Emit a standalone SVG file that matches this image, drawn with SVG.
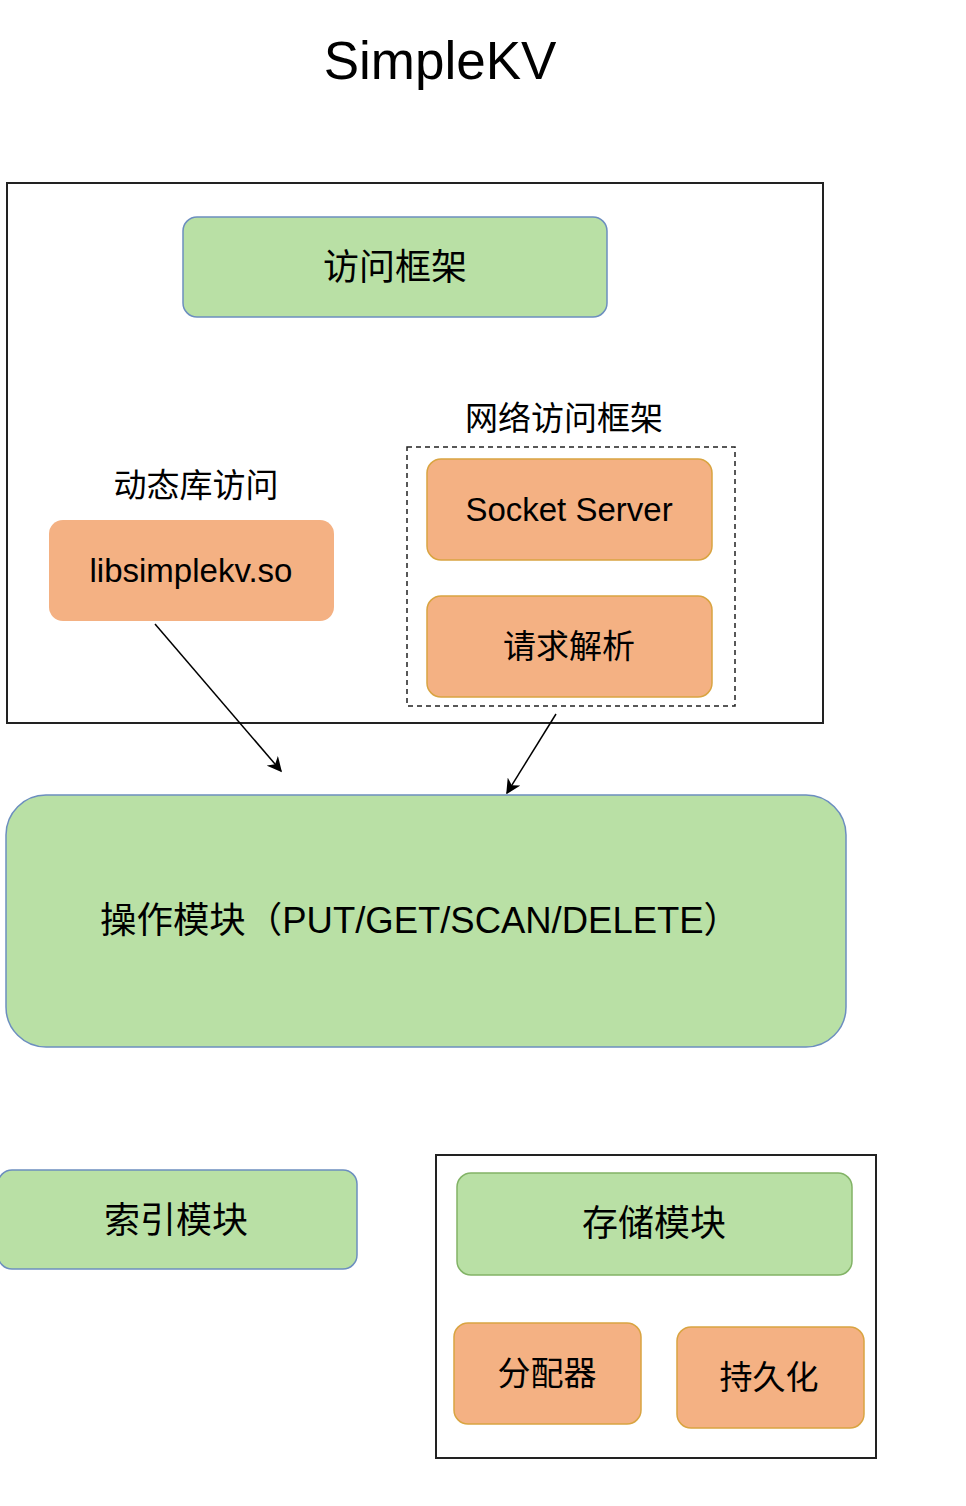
<svg xmlns="http://www.w3.org/2000/svg" width="966" height="1506" viewBox="0 0 966 1506">
<style>
text{font-family:"Liberation Sans","Noto Sans CJK SC",Arial,sans-serif;fill:#000;text-anchor:middle;dominant-baseline:central}
.g{fill:#b9e0a5;stroke:#6c8ebf;stroke-width:1.5}
.gg{fill:#b9e0a5;stroke:#82b366;stroke-width:1.5}
.o{fill:#f4b183;stroke:#d9a441;stroke-width:1.5}
.on{fill:#f4b183;stroke:none}
.frame{fill:#fff;stroke:#222;stroke-width:2}
.dash{fill:none;stroke:#222;stroke-width:1.5;stroke-dasharray:5 4}
.conn{stroke:#000;stroke-width:1.5;fill:none;marker-end:url(#ah)}
</style>
<defs>
<marker id="ah" viewBox="0 0 10 10" refX="9" refY="5" markerWidth="15" markerHeight="15" markerUnits="userSpaceOnUse" orient="auto">
<path d="M0,0 L10,5 L0,10 L3,5 z" fill="#000"/>
</marker>
</defs>
<rect width="966" height="1506" fill="#fff"/>
<text x="440" y="60" font-size="53">SimpleKV</text>
<g id="access-layer">
<rect class="frame" x="7" y="183" width="816" height="540"/>
</g>
<g id="access-framework">
<rect class="g" x="183" y="217" width="424" height="100" rx="14"/>
<text x="395" y="267" font-size="36">访问框架</text>
</g>
<g id="network-access">
<text x="564" y="418" font-size="33">网络访问框架</text>
<rect class="dash" x="407" y="447" width="328" height="259"/>
</g>
<g id="socket-server">
<rect class="o" x="427" y="459" width="285" height="101" rx="14"/>
<text x="569" y="509" font-size="33">Socket Server</text>
</g>
<g id="request-parse">
<rect class="o" x="427" y="596" width="285" height="101" rx="14"/>
<text x="569" y="646" font-size="33">请求解析</text>
</g>
<g id="dynamic-lib">
<text x="196" y="485" font-size="33">动态库访问</text>
<rect class="on" x="49" y="520" width="285" height="101" rx="14"/>
<text x="191" y="570" font-size="33">libsimplekv.so</text>
</g>
<g id="operation-module">
<rect class="g" x="6" y="795" width="840" height="252" rx="40"/>
<text x="100" y="920" font-size="36" style="text-anchor:start" textLength="640" lengthAdjust="spacingAndGlyphs">操作模块（PUT/GET/SCAN/DELETE）</text>
</g>
<g id="index-module">
<rect class="g" x="-2" y="1170" width="359" height="99" rx="14"/>
<text x="176" y="1220" font-size="36">索引模块</text>
</g>
<g id="storage-group">
<rect class="frame" x="436" y="1155" width="440" height="303"/>
</g>
<g id="storage-module">
<rect class="gg" x="457" y="1173" width="395" height="102" rx="14"/>
<text x="654" y="1223" font-size="36">存储模块</text>
</g>
<g id="allocator">
<rect class="o" x="454" y="1323" width="187" height="101" rx="14"/>
<text x="547" y="1373" font-size="33">分配器</text>
</g>
<g id="persistence">
<rect class="o" x="677" y="1327" width="187" height="101" rx="14"/>
<text x="769" y="1377" font-size="33">持久化</text>
</g>
<g id="connectors">
<line class="conn" x1="155" y1="624" x2="281" y2="771"/>
<line class="conn" x1="556" y1="714" x2="507" y2="793"/>
</g>
</svg>
